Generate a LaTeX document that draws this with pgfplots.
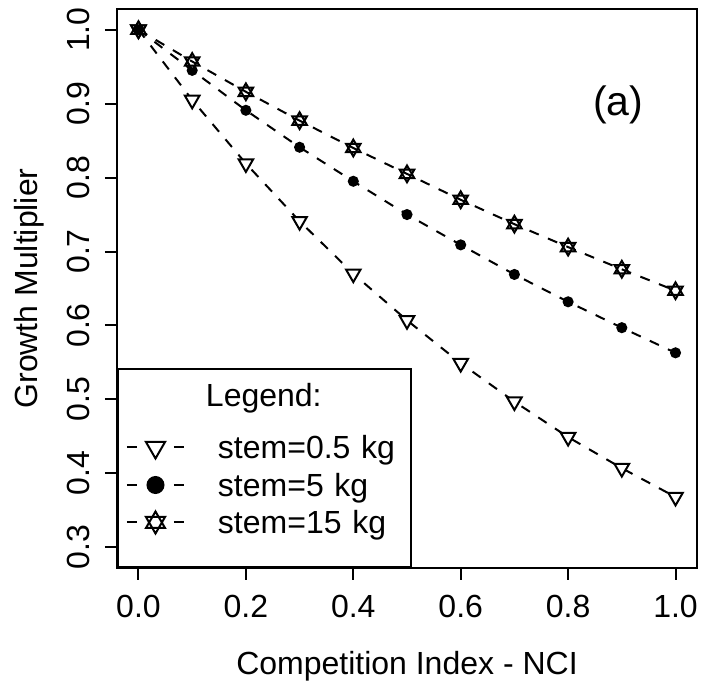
\documentclass[border=0pt]{standalone}
\usepackage{fontspec}
\setmainfont{Liberation Sans}
\usepackage{pgfplots}
\pgfplotsset{compat=1.18}

% R-style open triangle (point down) and two overlaid triangles
\pgfdeclareplotmark{dtri}{%
  \pgfpathmoveto{\pgfqpoint{0pt}{-\pgfplotmarksize}}%
  \pgfpathlineto{\pgfqpoint{0.866\pgfplotmarksize}{0.5\pgfplotmarksize}}%
  \pgfpathlineto{\pgfqpoint{-0.866\pgfplotmarksize}{0.5\pgfplotmarksize}}%
  \pgfpathclose
  \pgfusepathqfillstroke}
\pgfdeclareplotmark{hexa}{%
  \pgfpathmoveto{\pgfqpoint{0pt}{-\pgfplotmarksize}}%
  \pgfpathlineto{\pgfqpoint{0.866\pgfplotmarksize}{0.5\pgfplotmarksize}}%
  \pgfpathlineto{\pgfqpoint{-0.866\pgfplotmarksize}{0.5\pgfplotmarksize}}%
  \pgfpathclose
  \pgfpathmoveto{\pgfqpoint{0pt}{\pgfplotmarksize}}%
  \pgfpathlineto{\pgfqpoint{0.866\pgfplotmarksize}{-0.5\pgfplotmarksize}}%
  \pgfpathlineto{\pgfqpoint{-0.866\pgfplotmarksize}{-0.5\pgfplotmarksize}}%
  \pgfpathclose
  \pgfusepathqfillstroke}

\pgfplotsset{
  rlegend/.style={legend image code/.code={
    \draw[##1,solid] (0pt,4.5pt)--(5pt,4.5pt) (23.5pt,4.5pt)--(28.5pt,4.5pt);
    \draw[##1,mark size=#1] plot[only marks] coordinates {(14.25pt,4.5pt)};}},
  rseries/.style={black, line width=1pt, dash pattern=on 5pt off 5pt,
    mark options={solid, fill=white}},
}

\begin{document}
\begin{tikzpicture}[font=\fontsize{16}{19}\selectfont]
\begin{axis}[
  name=ax,
  scale only axis,
  width=290pt, height=279.5pt,
  xmin=-0.04, xmax=1.04,
  ymin=0.272, ymax=1.028,
  xtick={0,0.2,0.4,0.6,0.8,1.0},
  ytick={0.3,0.4,0.5,0.6,0.7,0.8,0.9,1.0},
  xticklabel={\pgfmathprintnumber[fixed,fixed zerofill,precision=1,assume math mode=true]{\tick}},
  yticklabel={\pgfmathprintnumber[fixed,fixed zerofill,precision=1,assume math mode=true]{\tick}},
  tick pos=left,
  tick align=outside,
  major tick length=6pt,
  axis line style={line width=1pt},
  tick style={line width=1pt, black},
  tick label style={font=\fontsize{16}{19}\selectfont, inner sep=0pt},
  xticklabel style={anchor=north},
  yticklabel style={rotate=90, anchor=south},
  xticklabel shift=7.5pt,
  yticklabel shift=7.5pt,
  xlabel={Competition Index - NCI},
  ylabel={Growth Multiplier},
  xlabel style={at={(axis description cs:0.5,-0.1914)}, anchor=base, inner sep=0pt},
  ylabel style={at={(axis description cs:-0.137,0.5)}, anchor=base, inner sep=0pt},
  legend style={at={(axis description cs:0,0)}, anchor=south west,
    draw=black, line width=1pt, fill=white,
    inner xsep=4pt, inner ysep=7.5pt, row sep=-1.75pt, column sep=16.5pt,
    nodes={inner sep=0pt, text height=11.5pt, text depth=9pt,
      text width=92.5pt, align=left, font=\fontsize{16}{19}\selectfont}},
  legend cell align=left,
  clip=false,
]
\addlegendimage{empty legend}
\addlegendentry[text depth=16.25pt]{\hspace*{-6pt}Legend:}

\addplot[rseries, mark=dtri, mark size=4.2pt, rlegend=5.5pt] coordinates {
  (0.0,1.000) (0.1,0.905) (0.2,0.819) (0.3,0.741) (0.4,0.670) (0.5,0.607)
  (0.6,0.549) (0.7,0.497) (0.8,0.449) (0.9,0.407) (1.0,0.368)
};
\addlegendentry{stem=0.5 kg}

\addplot[rseries, mark=*, mark size=2.25pt, mark options={solid, fill=black}, rlegend=4pt] coordinates {
  (0.0,1.000) (0.1,0.945) (0.2,0.891) (0.3,0.841) (0.4,0.795) (0.5,0.750)
  (0.6,0.709) (0.7,0.669) (0.8,0.632) (0.9,0.597) (1.0,0.563)
};
\addlegendentry{stem=5 kg}

\addplot[rseries, mark=hexa, mark size=4.2pt, rlegend=5.5pt] coordinates {
  (0.0,1.000) (0.1,0.957) (0.2,0.916) (0.3,0.877) (0.4,0.840) (0.5,0.805)
  (0.6,0.770) (0.7,0.737) (0.8,0.706) (0.9,0.676) (1.0,0.647)
};
\addlegendentry{stem=15 kg}

\node[font=\fontsize{20.5}{24}\selectfont, inner sep=0pt] at (axis cs:0.893,0.898) {(a)};
\end{axis}
\path (ax.south west) ++(-58.5pt,-55.5pt) rectangle ++(350.5pt,339.5pt);
\end{tikzpicture}
\end{document}
